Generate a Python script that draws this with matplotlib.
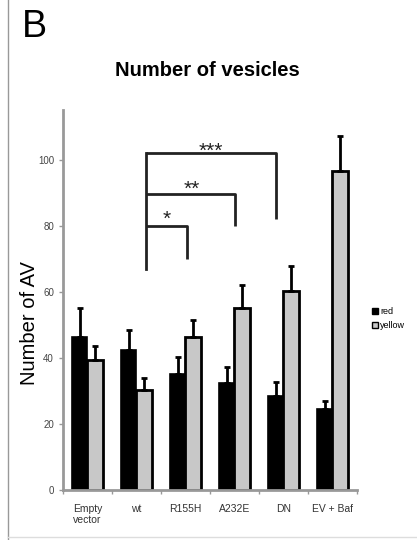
import numpy as np
import matplotlib
matplotlib.use("Agg")
import matplotlib.pyplot as plt
from matplotlib.lines import Line2D

plt.rcParams['font.family'] = ['Liberation Sans', 'DejaVu Sans']

groupes = ['Empty\nvector', 'wt', 'R155H', 'A232E', 'DN', 'EV + Baf']
red = [46.4, 42.4, 35, 32.4, 28.5, 24.5]
red_err = [8.6, 6.1, 5.2, 4.8, 4.3, 2.3]
yellow = [39.4, 30.3, 46.4, 55.2, 60.3, 96.5]
yellow_err = [4.2, 3.7, 5.1, 6.8, 7.6, 10.5]

# crochets de significativité: (x debut, x fin, hauteur, bas droite, texte, x texte, y texte)
crochets = [(1.19, 2.03, 80, 70, '*', 1.62, 79),
            (1.19, 3.01, 89.5, 80, '**', 2.13, 88),
            (1.19, 3.85, 102, 82, '***', 2.52, 99.5)]
crochet_bas = 67

fig = plt.figure(figsize=(4.17, 5.4), dpi=100)
ax = fig.add_axes([0.151, 0.0926, 0.705, 0.7037])

x = np.arange(len(groupes))
w = 0.32
ax.bar(x - w/2, red, w, color='black', edgecolor='black', linewidth=1.2, label='red',
       yerr=[np.zeros(len(red)), red_err], error_kw=dict(ecolor='black', elinewidth=2, capsize=2, capthick=2))
ax.bar(x + w/2, yellow, w, color='#c8c8c8', edgecolor='black', linewidth=2, label='yellow',
       yerr=[np.zeros(len(yellow)), yellow_err], error_kw=dict(ecolor='black', elinewidth=2, capsize=2, capthick=2))

for x0, x1, h, bas, txt, tx, ty in crochets:
    ax.plot([x0, x1, x1], [h, h, bas], color='#222222', linewidth=2, solid_capstyle='butt')
    ax.text(tx, ty, txt, ha='center', va='bottom', fontsize=15, color='#222222')
ax.plot([1.19, 1.19], [crochets[-1][2], crochet_bas], color='#222222', linewidth=2)

ax.set_xlim(-0.5, 5.5)
ax.set_ylim(0, 115)
ax.set_yticks([0, 20, 40, 60, 80, 100])
ax.set_xticks(x)
ax.set_xticklabels(groupes, fontsize=7.5, color='#333333')
ax.set_xticks(np.arange(-0.5, 6, 1), minor=True)
ax.tick_params(axis='x', which='major', length=0, pad=10)
ax.tick_params(axis='x', which='minor', length=3, color='#999999', width=1)
ax.tick_params(axis='y', labelsize=7, labelcolor='#444444', length=3, color='#999999', width=1)
for s in ['top', 'right']:
    ax.spines[s].set_visible(False)
for s in ['left', 'bottom']:
    ax.spines[s].set_color('#999999')
    ax.spines[s].set_linewidth(2)
ax.set_ylabel('Number of AV', fontsize=14.5)
ax.yaxis.set_label_coords(-0.08, 0.44)

handles = [Line2D([], [], marker='s', color='black', markerfacecolor='black', linestyle='', markersize=4),
           Line2D([], [], marker='s', color='black', markerfacecolor='#c8c8c8', linestyle='', markersize=4)]
fig.legend(handles, ['red', 'yellow'], loc='center left', bbox_to_anchor=(0.87, 0.41), frameon=False,
           fontsize=6.5, handletextpad=0.0, labelspacing=0.5, handlelength=1)

fig.text(115/417, 1 - 70/540, 'Number of vesicles', ha='left', va='center', fontsize=14.5, fontweight='bold')
fig.text(22/417, 1 - 27/540, 'B', ha='left', va='center', fontsize=27)

# cadre de la figure
fig.add_artist(Line2D([8/417, 8/417], [0, 1], color='#999999', linewidth=1, transform=fig.transFigure))
fig.add_artist(Line2D([8/417, 1], [3/540, 3/540], color='#dddddd', linewidth=1, transform=fig.transFigure))

fig.savefig('out.png', dpi=100)
